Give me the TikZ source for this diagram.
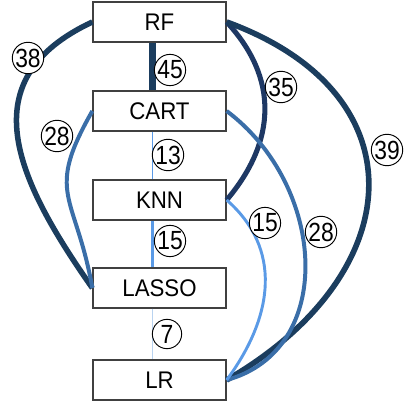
\documentclass[tikz,border=0pt]{standalone}
\usepackage{graphicx}
\usepackage{fontspec}
\setmainfont{Liberation Sans}
\usetikzlibrary{calc}
\definecolor{navy}{RGB}{27,61,94}
\definecolor{navyb}{RGB}{30,56,100}
\definecolor{midblue}{RGB}{58,110,168}
\definecolor{liteblue}{RGB}{90,154,230}
\definecolor{paleblue}{RGB}{185,211,240}
\newcommand{\tall}[2]{\scalebox{1}[#1]{#2}}
\tikzset{
	box/.style={draw=black!75, line width=1.1pt, fill=white, minimum width=3.99cm, minimum height=1.2cm, inner sep=0pt, font=\fontsize{19}{21}\selectfont},
	num/.style={circle, draw=black, line width=0.8pt, fill=white, minimum size=0.88cm, inner sep=0pt, font=\fontsize{19.5}{21}\selectfont},
}

\begin{document}
\begin{tikzpicture}[x=0.03cm, y=0.03cm]
			%%%%% START %%%%%
			\useasboundingbox (0, 0) rectangle (403, -403);
			
			\node[box] (rf) at (159.5, -22) {\tall{1.08}{RF}};
			\node[box] (cart) at (159.5, -111) {\tall{1.08}{CART}};
			\node[box] (knn) at (159.5, -200) {\tall{1.08}{KNN}};
			\node[box] (lasso) at (159.5, -288) {\tall{1.08}{LASSO}};
			\node[box] (lr) at (159.5, -380) {\tall{1.08}{LR}};
			
			% straight links
			\draw[line width=5.5pt, color=navy] ($(rf.south)+(-7, 0)$) -- ($(cart.north)+(-7, 0)$);
			\draw[line width=1.7pt, color=liteblue] ($(cart.south)+(-7, 0)$) -- ($(knn.north)+(-7, 0)$);
			\draw[line width=2.8pt, color=liteblue] ($(knn.south)+(-7, 0)$) -- ($(lasso.north)+(-7, 0)$);
			\draw[line width=1.1pt, color=paleblue] ($(lasso.south)+(-7, 0)$) -- ($(lr.north)+(-7, 0)$);
			
			% left arcs
			\draw[line width=4.7pt, color=navy] (rf.west) .. controls +(-122, -57) and +(-78, 111) .. (lasso.west);
			\draw[line width=3.4pt, color=midblue] (cart.west) .. controls +(-48, -84) and +(-17, 95) .. (lasso.west);
			
			% right arcs
			\draw[line width=4.3pt, color=navyb] (rf.east) .. controls +(52, -56) and +(50, 59) .. (knn.east);
			\draw[line width=4.8pt, color=navy] (rf.east) .. controls +(197, -72) and +(182, 105) .. (lr.east);
			\draw[line width=3.4pt, color=midblue] (cart.east) .. controls +(100, -75) and +(110, 30) .. (lr.east);
			\draw[line width=2.5pt, color=liteblue] (knn.east) .. controls +(55, -48) and +(48, 65) .. (lr.east);
			
			% counts
			\node[num] (n45) at (170, -70) {\tall{1.15}{45}};
			\node[num] (n13) at (168, -155) {\tall{1.15}{13}};
			\node[num] (n15a) at (170, -241) {\tall{1.15}{15}};
			\node[num] (n7) at (167, -334) {\tall{1.15}{7}};
			\node[num] (n38) at (28, -58) {\tall{1.15}{38}};
			\node[num] (n28a) at (57, -136) {\tall{1.15}{28}};
			\node[num] (n35) at (281, -87) {\tall{1.15}{35}};
			\node[num] (n39) at (387, -150) {\tall{1.15}{39}};
			\node[num] (n28b) at (321, -232) {\tall{1.15}{28}};
			\node[num] (n15b) at (265, -223) {\tall{1.15}{15}};
			
			%%%%% END %%%%%
\end{tikzpicture}
\end{document}
